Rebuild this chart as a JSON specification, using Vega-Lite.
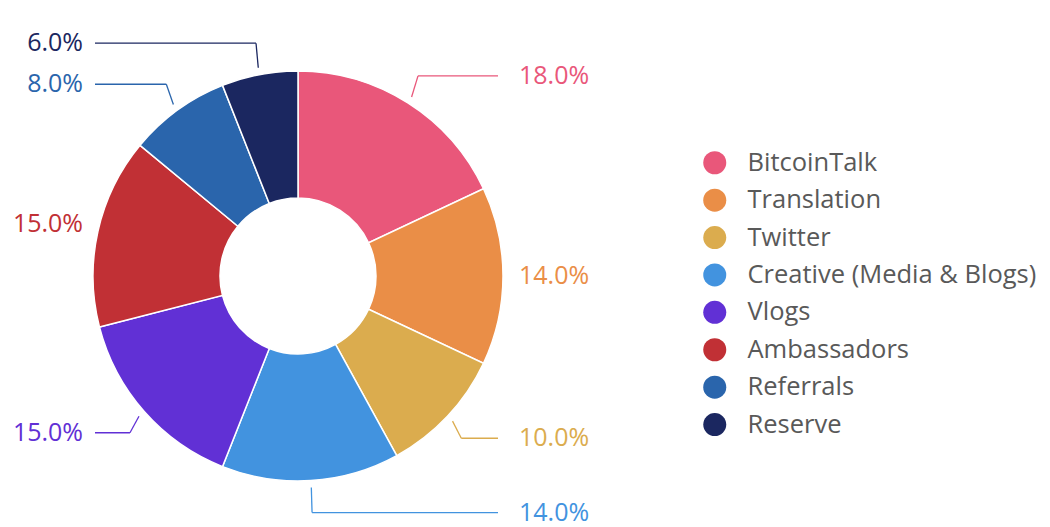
{
  "$schema": "https://vega.github.io/schema/vega-lite/v6.json",
  "width": 1050,
  "height": 527,
  "padding": 0,
  "autosize": {"type": "none"},
  "background": "white",
  "config": {"view": {"stroke": null}, "font": "Open Sans"},
  "data": {
    "values": [
      {"category": "BitcoinTalk", "value": 18},
      {"category": "Translation", "value": 14},
      {"category": "Twitter", "value": 10},
      {"category": "Creative (Media & Blogs)", "value": 14},
      {"category": "Vlogs", "value": 15},
      {"category": "Ambassadors", "value": 15},
      {"category": "Referrals", "value": 8},
      {"category": "Reserve", "value": 6}
    ]
  },
  "transform": [
    {"window": [{"op": "row_number", "as": "idx"}, {"op": "sum", "field": "value", "as": "cum"}], "frame": [null, 0]},
    {"calculate": "2*PI*(datum.cum - datum.value/2)/100", "as": "mid"},
    {"calculate": "sin(datum.mid) > 0 ? 1 : -1", "as": "side"},
    {"calculate": "298 + 212*sin(datum.mid)", "as": "xs"},
    {"calculate": "276 - 212*cos(datum.mid)", "as": "ys"},
    {"calculate": "298 + 224*sin(datum.mid)", "as": "xe"},
    {"calculate": "276 - 237*cos(datum.mid)", "as": "ly"},
    {"calculate": "datum.side > 0 ? 498 : 95", "as": "xt"},
    {"calculate": "datum.side > 0 ? 519 : 83", "as": "lx"},
    {"calculate": "format(datum.value, '.1f') + '%'", "as": "label"}
  ],
  "layer": [
    {
      "mark": {"type": "arc", "innerRadius": 78, "outerRadius": 205, "stroke": "white", "strokeWidth": 1.5},
      "encoding": {
        "x": {"datum": 298, "type": "quantitative", "scale": {"domain": [0, 1050], "nice": false, "zero": false}, "axis": null},
        "y": {"datum": 276, "type": "quantitative", "scale": {"domain": [0, 527], "nice": false, "zero": false, "reverse": true}, "axis": null},
        "theta": {"field": "value", "type": "quantitative", "stack": true},
        "order": {"field": "idx", "type": "quantitative"},
        "color": {
          "field": "category",
          "type": "nominal",
          "sort": null,
          "scale": {
            "domain": ["BitcoinTalk", "Translation", "Twitter", "Creative (Media & Blogs)", "Vlogs", "Ambassadors", "Referrals", "Reserve"],
            "range": ["#E9577A", "#EA8E47", "#DBAC4E", "#4293DF", "#6130D5", "#C13035", "#2A65AC", "#1B2760"]
          },
          "legend": {
            "title": null,
            "orient": "none",
            "legendX": 702,
            "legendY": 150,
            "symbolType": "circle",
            "symbolSize": 529,
            "symbolStrokeWidth": 0,
            "labelFontSize": 25.5,
            "labelFont": "Open Sans",
            "labelColor": "#595959",
            "labelOffset": 20,
            "rowPadding": 10.4,
            "padding": 0,
            "labelLimit": 400
          }
        }
      }
    },
    {
      "transform": [{"filter": "(datum.side > 0 && datum.xe < 498) || (datum.side < 0 && datum.xe > 95)"}],
      "mark": {"type": "rule", "strokeWidth": 1.3},
      "encoding": {
        "x": {"field": "xs", "type": "quantitative"},
        "y": {"field": "ys", "type": "quantitative"},
        "x2": {"field": "xe"},
        "y2": {"field": "ly"},
        "color": {"field": "category", "type": "nominal", "sort": null, "legend": null}
      }
    },
    {
      "transform": [{"filter": "(datum.side > 0 && datum.xe < 498) || (datum.side < 0 && datum.xe > 95)"}],
      "mark": {"type": "rule", "strokeWidth": 1.3},
      "encoding": {
        "x": {"field": "xe", "type": "quantitative"},
        "y": {"field": "ly", "type": "quantitative"},
        "x2": {"field": "xt"},
        "y2": {"field": "ly"},
        "color": {"field": "category", "type": "nominal", "sort": null, "legend": null}
      }
    },
    {
      "transform": [{"filter": "datum.side > 0"}],
      "mark": {"type": "text", "align": "left", "baseline": "middle", "fontSize": 25, "font": "Open Sans"},
      "encoding": {
        "x": {"field": "lx", "type": "quantitative"},
        "y": {"field": "ly", "type": "quantitative"},
        "text": {"field": "label"},
        "color": {"field": "category", "type": "nominal", "sort": null, "legend": null}
      }
    },
    {
      "transform": [{"filter": "datum.side < 0"}],
      "mark": {"type": "text", "align": "right", "baseline": "middle", "fontSize": 25, "font": "Open Sans"},
      "encoding": {
        "x": {"field": "lx", "type": "quantitative"},
        "y": {"field": "ly", "type": "quantitative"},
        "text": {"field": "label"},
        "color": {"field": "category", "type": "nominal", "sort": null, "legend": null}
      }
    }
  ]
}
